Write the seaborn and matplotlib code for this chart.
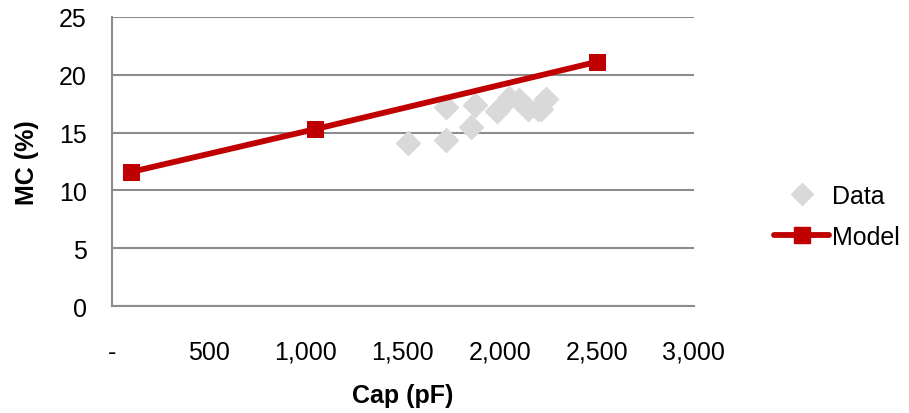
import pandas as pd
import matplotlib.pyplot as plt
import seaborn as sns
from matplotlib.ticker import FuncFormatter
from matplotlib.lines import Line2D

# values
data_cap = [1525, 1725, 1725, 1850, 1875, 1985, 2050, 2100, 2145, 2200, 2215, 2240]
data_mc = [14.1, 17.2, 14.4, 15.5, 17.4, 16.9, 18.0, 17.8, 17.0, 17.0, 17.0, 17.9]
model_cap = [100, 1050, 2500]
model_mc = [11.6, 15.3, 21.1]

data_df = pd.DataFrame({'cap': data_cap, 'mc': data_mc})
model_df = pd.DataFrame({'cap': model_cap, 'mc': model_mc})

sns.set_style('white')
plt.rcParams['font.family'] = ['Liberation Sans', 'DejaVu Sans']
plt.rcParams['text.color'] = 'black'
plt.rcParams['xtick.color'] = 'black'
plt.rcParams['ytick.color'] = 'black'
plt.rcParams['axes.labelcolor'] = 'black'

fig = plt.figure(figsize=(9.09, 4.14), dpi=100)
ax = fig.add_axes([0.123, 0.258, 0.640, 0.699])

sns.scatterplot(x='cap', y='mc', data=data_df, ax=ax, marker='D', s=150,
                color='#d9d9d9', edgecolor='#d9d9d9', zorder=3, legend=False)
sns.lineplot(x='cap', y='mc', data=model_df, ax=ax, color='#c00000', lw=4.2,
             marker='s', markersize=12, markeredgecolor='#c00000', zorder=4,
             legend=False)

ax.set_xlim(0, 3000)
ax.set_ylim(0, 25)
ax.set_xticks(range(0, 3001, 500))
ax.set_yticks(range(0, 26, 5))
ax.xaxis.set_major_formatter(FuncFormatter(lambda v, p: '-' if v == 0 else f'{int(v):,}'))
ax.yaxis.grid(True, color='#8c8c8c', lw=1.5)
ax.xaxis.grid(False)
for s in ['top', 'right']:
    ax.spines[s].set_visible(False)
for s in ['left', 'bottom']:
    ax.spines[s].set_color('#8c8c8c')
    ax.spines[s].set_linewidth(1.5)
ax.tick_params(axis='x', length=0, pad=24, labelsize=18)
ax.tick_params(axis='y', length=0, pad=18, labelsize=18)
ax.set_xlabel('Cap (pF)', fontsize=18, fontweight='bold', labelpad=14)
ax.set_ylabel('MC (%)', fontsize=18, fontweight='bold', labelpad=14)

handles = [
    Line2D([], [], ls='none', marker='D', markersize=11, color='#d9d9d9'),
    Line2D([], [], color='#c00000', lw=4.2, marker='s', markersize=12),
]
fig.legend(handles, ['Data', 'Model'], loc='center left', bbox_to_anchor=(0.852, 0.475),
           frameon=False, fontsize=18, handlelength=2.2, handletextpad=0.1,
           labelspacing=0.7, borderpad=0, borderaxespad=0)

fig.savefig('out.png', dpi=100)
